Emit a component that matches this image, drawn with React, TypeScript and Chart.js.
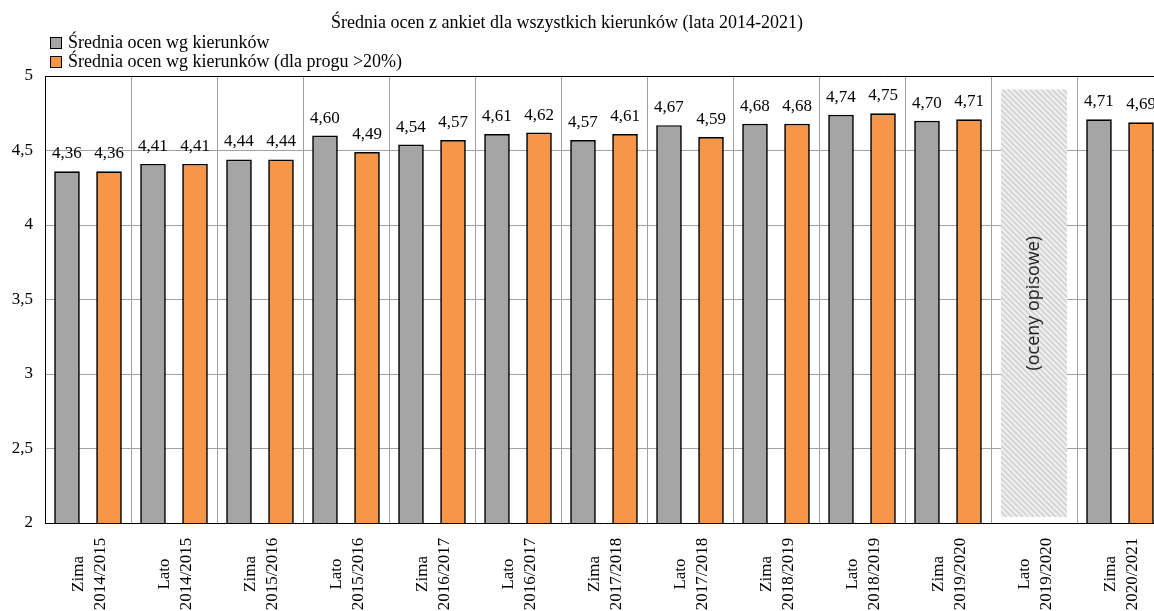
import React, { useEffect, useRef } from "react";
import { Chart, registerables } from "chart.js";

Chart.register(...registerables);

// ---- data ----
const categories: string[][] = [
  ["Zima", "2014/2015"],
  ["Lato", "2014/2015"],
  ["Zima", "2015/2016"],
  ["Lato", "2015/2016"],
  ["Zima", "2016/2017"],
  ["Lato", "2016/2017"],
  ["Zima", "2017/2018"],
  ["Lato", "2017/2018"],
  ["Zima", "2018/2019"],
  ["Lato", "2018/2019"],
  ["Zima", "2019/2020"],
  ["Lato", "2019/2020"],
  ["Zima", "2020/2021"],
];
const seriesNames = [
  "Średnia ocen wg kierunków",
  "Średnia ocen wg kierunków (dla progu >20%)",
];
const avgAll: (number | null)[] = [4.36, 4.41, 4.44, 4.6, 4.54, 4.61, 4.57, 4.67, 4.68, 4.74, 4.7, null, 4.71];
const avgThreshold: (number | null)[] = [4.36, 4.41, 4.44, 4.49, 4.57, 4.62, 4.61, 4.59, 4.68, 4.75, 4.71, null, 4.69];
const yTicks = [2, 2.5, 3, 3.5, 4, 4.5, 5];
const titleText = "Średnia ocen z ankiet dla wszystkich kierunków (lata 2014-2021)";
const noteIndex = 11;
const noteText = "(oceny opisowe)";
const noteRange = [2.04, 4.91];

const seriesColors = ["#a5a5a5", "#f79646"];
const SERIF = '"Liberation Serif", "Times New Roman", serif';
const SANS = '"Open Sans", "Noto Sans", sans-serif';
const fmt = (v: number) => String(v).replace(".", ",");

const decorPlugin = {
  id: "decor",
  beforeDatasetsDraw(chart: any) {
    const { ctx, scales } = chart;
    const x = scales.x;
    const y = scales.y;
    const catW = x.width / categories.length;
    const cx = x.getPixelForValue(noteIndex);
    const half = catW * 0.384;
    const top = y.getPixelForValue(noteRange[1]);
    const bot = y.getPixelForValue(noteRange[0]);
    const x0 = cx - half;
    const w = half * 2;
    const h = bot - top;
    ctx.save();
    ctx.fillStyle = "#f0f0f0";
    ctx.fillRect(x0, top, w, h);
    ctx.beginPath();
    ctx.rect(x0, top, w, h);
    ctx.clip();
    ctx.strokeStyle = "#d2d2d2";
    ctx.lineWidth = 1.8;
    for (let k = -h; k < w + h; k += 5.5) {
      ctx.beginPath();
      ctx.moveTo(x0 + k, top);
      ctx.lineTo(x0 + k + h, top + h);
      ctx.stroke();
    }
    ctx.restore();
    ctx.save();
    ctx.translate(cx, (top + bot) / 2);
    ctx.rotate(-Math.PI / 2);
    ctx.font = `18px ${SANS}`;
    ctx.fillStyle = "#222";
    ctx.textAlign = "center";
    ctx.textBaseline = "middle";
    ctx.fillText(noteText, 0, 0);
    ctx.restore();
  },
  afterDatasetsDraw(chart: any) {
    const { ctx } = chart;
    ctx.save();
    ctx.font = `17px ${SERIF}`;
    ctx.fillStyle = "#000";
    ctx.textAlign = "center";
    ctx.textBaseline = "alphabetic";
    chart.data.datasets.forEach((ds: any, di: number) => {
      const meta = chart.getDatasetMeta(di);
      meta.data.forEach((el: any, i: number) => {
        const v = ds.data[i];
        if (v == null) return;
        ctx.fillText(v.toFixed(2).replace(".", ","), el.x, el.y - 13);
      });
    });
    ctx.restore();
  },
  afterDraw(chart: any) {
    const { ctx, chartArea, scales } = chart;
    const x = scales.x;
    ctx.save();
    // top border
    ctx.strokeStyle = "#000";
    ctx.lineWidth = 1;
    ctx.beginPath();
    ctx.moveTo(chartArea.left, Math.round(chartArea.top) + 0.5);
    ctx.lineTo(chartArea.right, Math.round(chartArea.top) + 0.5);
    ctx.stroke();
    // title
    ctx.font = `18px ${SERIF}`;
    ctx.fillStyle = "#000";
    ctx.textAlign = "center";
    ctx.textBaseline = "alphabetic";
    ctx.fillText(titleText, 567, 28);
    // legend
    ctx.textAlign = "left";
    seriesNames.forEach((name, i) => {
      const by = 37 + i * 19;
      ctx.fillStyle = seriesColors[i];
      ctx.fillRect(50, by, 12, 12);
      ctx.strokeStyle = "#000";
      ctx.strokeRect(50.5, by + 0.5, 11, 11);
      ctx.fillStyle = "#000";
      ctx.fillText(name, 68, by + 11);
    });
    // x labels (rotated, centred lines)
    ctx.font = `17px ${SERIF}`;
    const axisBottom = chartArea.bottom;
    categories.forEach((lines, i) => {
      const px = x.getPixelForTick(i);
      ctx.save();
      ctx.translate(px, axisBottom + 51);
      ctx.rotate(-Math.PI / 2);
      ctx.textAlign = "center";
      ctx.textBaseline = "alphabetic";
      ctx.fillStyle = "#000";
      lines.forEach((ln, li) => {
        ctx.fillText(ln, 0, -5 + li * 22);
      });
      ctx.restore();
    });
    ctx.restore();
  },
};

export default function App() {
  const ref = useRef<HTMLCanvasElement>(null);
  useEffect(() => {
    const chart = new Chart(ref.current as HTMLCanvasElement, {
      type: "bar",
      data: {
        labels: categories as any,
        datasets: [
          {
            label: seriesNames[0],
            data: avgAll,
            backgroundColor: seriesColors[0],
            borderColor: "#000",
            borderWidth: 1.7,
            categoryPercentage: 0.977,
            barPercentage: 0.61,
          },
          {
            label: seriesNames[1],
            data: avgThreshold,
            backgroundColor: seriesColors[1],
            borderColor: "#000",
            borderWidth: 1.7,
            categoryPercentage: 0.977,
            barPercentage: 0.61,
          },
        ],
      },
      options: {
        animation: false,
        responsive: false,
        devicePixelRatio: 1,
        layout: { padding: { top: 76, right: 37, left: 0, bottom: 0 } },
        plugins: {
          legend: { display: false },
          title: { display: false },
          tooltip: { enabled: false },
        },
        scales: {
          x: {
            afterFit: (s: any) => {
              s.height = 88;
            },
            border: { color: "#000", width: 1 },
            grid: { color: "#a0a0a0", drawTicks: false, offset: true },
            ticks: { display: false },
          },
          y: {
            min: 2,
            max: 5,
            afterFit: (s: any) => {
              s.width = 45;
            },
            afterBuildTicks: (s: any) => {
              s.ticks = yTicks.map((v) => ({ value: v }));
            },
            border: { color: "#000", width: 1 },
            grid: { color: "#a0a0a0", drawTicks: false },
            ticks: {
              padding: 12,
              color: "#000",
              font: { family: SERIF, size: 17 },
              callback: (v: any) => fmt(Number(v)),
            },
          },
        },
      },
      plugins: [decorPlugin],
    });
    return () => chart.destroy();
  }, []);
  return (
    <div
      style={{
        position: "fixed",
        left: 0,
        top: 0,
        width: 1154,
        height: 611,
        overflow: "hidden",
        background: "#fff",
      }}
    >
      <canvas ref={ref} width={1200} height={611} style={{ display: "block" }} />
    </div>
  );
}
